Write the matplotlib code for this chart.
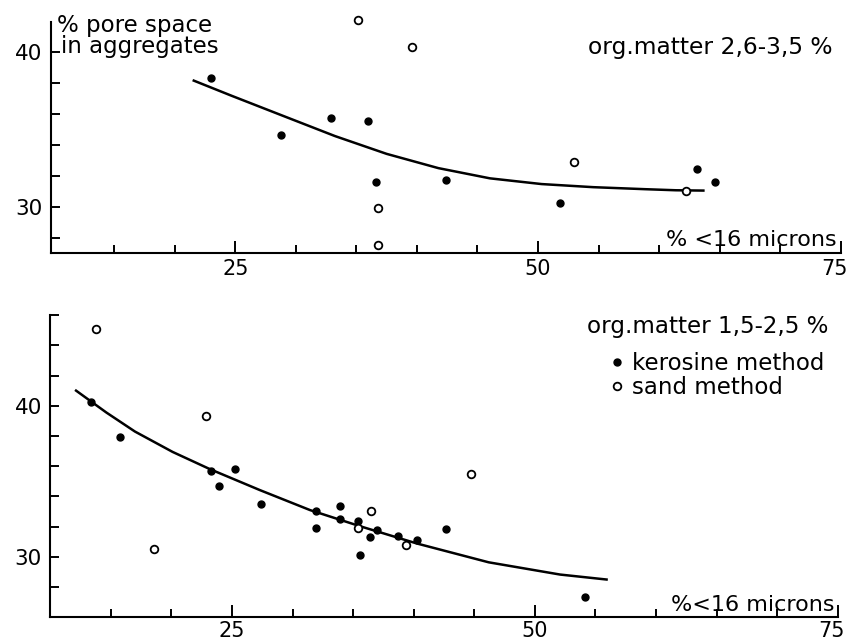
import matplotlib
matplotlib.use("Agg")
import matplotlib.pyplot as plt
import matplotlib.transforms as mtransforms
from matplotlib.ticker import FixedLocator, NullFormatter

# upper panel, org. matter 2,6-3,5 %
top_kero_x = [23.0, 28.8, 32.9, 36.0, 36.6, 42.4, 51.8, 63.1, 64.6]
top_kero_y = [38.3, 34.6, 35.7, 35.5, 31.6, 31.7, 30.2, 32.4, 31.6]
top_sand_x = [35.1, 39.6, 36.8, 36.8, 53.0, 62.2]
top_sand_y = [42.05, 40.3, 29.9, 27.5, 32.9, 31.03]
top_curve_x = [21.57, 24.7, 28.96, 33.23, 37.5, 41.77, 46.03, 50.3, 54.56, 58.83, 61.39, 63.66]
top_curve_y = [38.13, 37.15, 35.85, 34.55, 33.4, 32.48, 31.82, 31.45, 31.25, 31.12, 31.05, 31.03]

# lower panel, org. matter 1,5-2,5 %
bot_kero_x = [13.4, 15.75, 23.3, 23.9, 25.25, 27.4, 31.9, 31.9, 33.9, 33.9,
              35.4, 35.6, 36.4, 37.0, 38.7, 40.3, 42.7, 54.1]
bot_kero_y = [40.24, 37.97, 35.7, 34.67, 35.8, 33.5, 33.06, 31.9, 33.35, 32.5,
              32.4, 30.1, 31.3, 31.76, 31.36, 31.1, 31.85, 27.33]
bot_sand_x = [13.8, 22.85, 18.6, 36.5, 35.4, 39.4, 44.7]
bot_sand_y = [45.1, 39.34, 30.5, 33.04, 31.9, 30.8, 35.5]
bot_curve_x = [12.13, 14.63, 16.99, 20.1, 23.18, 27.31, 31.44, 35.57, 40.29, 46.19, 52.08, 55.92]
bot_curve_y = [41.01, 39.56, 38.3, 36.95, 35.81, 34.42, 33.1, 32.03, 30.88, 29.64, 28.83, 28.5]

x_labels = [25, 50, 75]
x_minor = list(range(15, 75, 5))
y_labels = [30, 40]
top_y_minor = list(range(28, 41, 2))
bot_y_minor = list(range(28, 47, 2))

plt.rcParams['font.family'] = ['DejaVu Sans']
fig = plt.figure(figsize=(8.49, 6.4), dpi=100)

ax1 = fig.add_axes([0.0601, 0.6047, 0.9301, 0.3872])
ax2 = fig.add_axes([0.0592, 0.0355, 0.9275, 0.4837])


def style_axes(ax, xlim, ylim, spine_top, y_minor, xpad):
    ax.set_xlim(*xlim)
    ax.set_ylim(*ylim)
    for s in ['top', 'right']:
        ax.spines[s].set_visible(False)
    for s in ['left', 'bottom']:
        ax.spines[s].set_linewidth(1.5)
    ax.spines['left'].set_bounds(ylim[0], spine_top)
    ax.xaxis.set_major_locator(FixedLocator(x_labels))
    ax.xaxis.set_minor_locator(FixedLocator(x_minor))
    ax.yaxis.set_major_locator(FixedLocator(y_labels))
    ax.yaxis.set_minor_locator(FixedLocator(y_minor))
    ax.xaxis.set_minor_formatter(NullFormatter())
    ax.yaxis.set_minor_formatter(NullFormatter())
    ax.tick_params(axis='x', which='major', direction='in', length=9, width=1.4,
                   pad=xpad, labelsize=15)
    ax.tick_params(axis='x', which='minor', direction='in', length=6, width=1.4)
    ax.tick_params(axis='y', which='both', direction='in', length=6.5, width=1.4,
                   pad=6, labelsize=15.5)
    ax.set_facecolor('none')
    # "75" sits a little left of its tick, as in the print
    last = ax.xaxis.get_major_ticks()[-1].label1
    shift = mtransforms.ScaledTranslation(-0.06, 0, fig.dpi_scale_trans)
    last.set_transform(last.get_transform() + shift)


def draw(ax, cx, cy, kx, ky, sx, sy):
    ax.plot(cx, cy, color='black', lw=1.8, zorder=2)
    k = ax.plot(kx, ky, 'o', color='black', ms=5, zorder=3,
                label='kerosine method')[0]
    s = ax.plot(sx, sy, 'o', mfc='white', mec='black', mew=1.3, ms=5.5, zorder=4,
                label='sand method', clip_on=False)[0]
    return k, s


style_axes(ax1, (9.78, 75), (27, 43), 41.9, top_y_minor, 4.5)
draw(ax1, top_curve_x, top_curve_y, top_kero_x, top_kero_y, top_sand_x, top_sand_y)
ax1.text(10.3, 41.29, '% pore space', fontsize=16.5, ha='left', va='baseline')
ax1.text(10.6, 39.9, 'in aggregates', fontsize=16.5, ha='left', va='baseline')
ax1.text(74.36, 39.85, 'org.matter 2,6-3,5 %', fontsize=16.8, ha='right', va='baseline')
ax1.text(74.7, 27.45, '% <16 microns', fontsize=16, ha='right', va='baseline')

style_axes(ax2, (10, 75), (26, 46.5), 46, bot_y_minor, 2.5)
k, s = draw(ax2, bot_curve_x, bot_curve_y, bot_kero_x, bot_kero_y, bot_sand_x, bot_sand_y)
ax2.text(74.2, 44.82, 'org.matter 1,5-2,5 %', fontsize=16.6, ha='right', va='baseline')
ax2.text(74.7, 26.4, '%<16 microns', fontsize=16, ha='right', va='baseline')
ax2.legend(handles=[k, s], loc='upper left', bbox_to_anchor=(0.7096, 0.857),
           frameon=False, fontsize=16.5, handlelength=0.7, handletextpad=0.3,
           labelspacing=0.06, borderpad=0, borderaxespad=0)

fig.savefig('out.png', dpi=100)
